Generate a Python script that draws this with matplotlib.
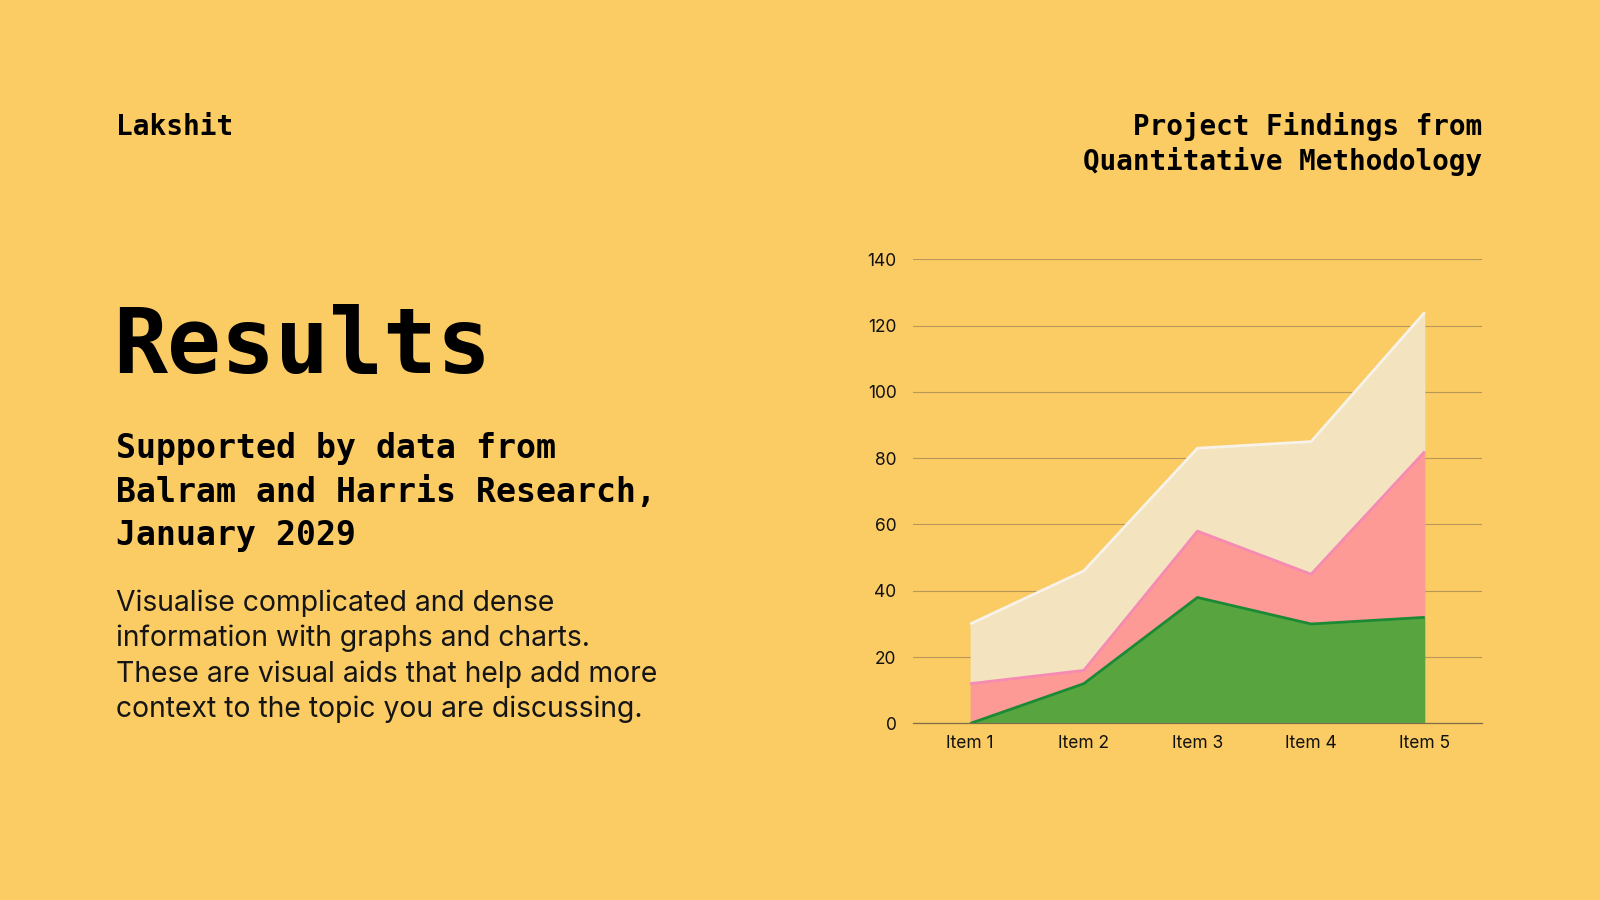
import numpy as np
import matplotlib.pyplot as plt

"""
Datos
"""
items = ['Item 1', 'Item 2', 'Item 3', 'Item 4', 'Item 5']
serie_verde = [0, 12, 38, 30, 32]
serie_rosa = [12, 4, 20, 15, 50]
serie_crema = [18, 30, 25, 40, 42]
y_ticks = [0, 20, 40, 60, 80, 100, 120, 140]

"""
Opciones globales
"""
fondo = '#FBCB64'
mono = ['DejaVu Sans Mono']
sans = ['Inter', 'DejaVu Sans']
W, H = 1568.0, 882.0

fig = plt.figure(figsize=(16, 9), dpi=100)
fig.patch.set_facecolor(fondo)

def fx(px):
    return px / W

def fy(py):
    return 1 - py / H

# textos
fig.text(fx(114), fy(124), 'Lakshit', family=mono, weight='bold',
         fontsize=20, va='center', ha='left')
fig.text(fx(1452), fy(124), 'Project Findings from', family=mono,
         weight='bold', fontsize=19.9, va='center', ha='right')
fig.text(fx(1452), fy(158), 'Quantitative Methodology', family=mono,
         weight='bold', fontsize=19.9, va='center', ha='right')
fig.text(fx(111), fy(341), 'Results', family=mono, weight='bold',
         fontsize=64.5, va='center', ha='left')

sub = ['Supported by data from', 'Balram and Harris Research,', 'January 2029']
for i, t in enumerate(sub):
    fig.text(fx(114), fy(440 + 42.5 * i), t, family=mono, weight='bold',
             fontsize=23.9, va='center', ha='left')

cuerpo = ['Visualise complicated and dense',
          'information with graphs and charts.',
          'These are visual aids that help add more',
          'context to the topic you are discussing.']
for i, t in enumerate(cuerpo):
    fig.text(fx(114), fy(591 + 34.8 * i), t, family=sans, fontsize=20.4,
             weight='normal', va='center', ha='left', color='#151515')

# grafico de areas
ax = fig.add_axes([fx(895), fy(709), fx(1452) - fx(895), fy(254) - fy(709)])
ax.set_facecolor(fondo)
x = np.arange(len(items))
v = np.array(serie_verde)
r = v + np.array(serie_rosa)
c = r + np.array(serie_crema)

ax.fill_between(x, 0, v, color='#58A540', lw=0, zorder=3)
ax.fill_between(x, v, r, color='#FD9A95', lw=0, zorder=3)
ax.fill_between(x, r, c, color='#F3E3BF', lw=0, zorder=3)
ax.plot(x, c, color='#F8F3EA', lw=2, zorder=4, solid_capstyle='butt')
ax.plot(x, r, color='#F58BB3', lw=2, zorder=4, solid_capstyle='butt')
ax.plot(x, v, color='#1C8A35', lw=2, zorder=4, solid_capstyle='butt')

ax.set_xlim(-0.5, len(items) - 0.5)
ax.set_ylim(0, 140)
ax.set_yticks(y_ticks)
ax.set_xticks(x)
ax.set_xticklabels(items)
ax.yaxis.grid(True, color='#A88C55', lw=0.8, alpha=0.8, zorder=1)
ax.set_axisbelow(True)
for s in ['top', 'right', 'left']:
    ax.spines[s].set_visible(False)
ax.spines['bottom'].set_color('#7F6E48')
ax.spines['bottom'].set_linewidth(0.9)
ax.spines['bottom'].set_zorder(5)
ax.tick_params(axis='both', length=0, labelsize=12.5, colors='#111111')
ax.tick_params(axis='y', pad=12)
ax.tick_params(axis='x', pad=8.5)
for lab in ax.get_xticklabels() + ax.get_yticklabels():
    lab.set_family(sans)

plt.savefig('out.png', dpi=100, facecolor=fondo)
